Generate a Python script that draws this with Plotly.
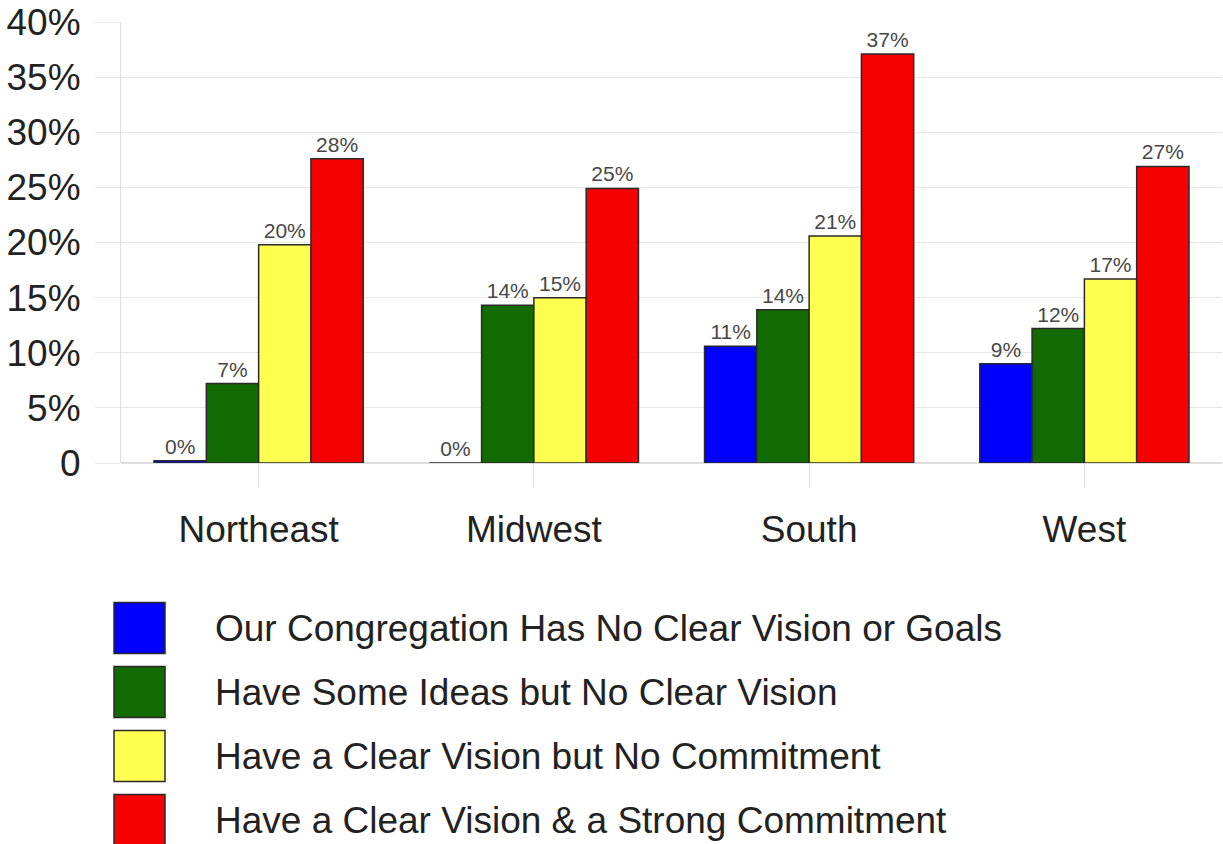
import plotly.graph_objects as go

regions = ["Northeast", "Midwest", "South", "West"]
series_names = [
    "Our Congregation Has No Clear Vision or Goals",
    "Have Some Ideas but No Clear Vision",
    "Have a Clear Vision but No Commitment",
    "Have a Clear Vision & a Strong Commitment",
]
no_clear_vision = [0.2, 0.0, 10.6, 9.0]
some_ideas = [7.2, 14.3, 13.9, 12.2]
vision_no_commit = [19.8, 15.0, 20.6, 16.7]
vision_strong_commit = [27.6, 24.9, 37.1, 26.9]
colors = ["#0000FF", "#126B00", "#FFFF50", "#F60000"]
y_ticks = [0, 5, 10, 15, 20, 25, 30, 35, 40]
y_tick_labels = ["0", "5%", "10%", "15%", "20%", "25%", "30%", "35%", "40%"]

all_series = [no_clear_vision, some_ideas, vision_no_commit, vision_strong_commit]

FONT = "Arial, Liberation Sans, sans-serif"
W, H = 1223, 844
ML, MR, MT, MB = 121, 1, 22, 381

fig = go.Figure()
for name, vals, col in zip(series_names, all_series, colors):
    fig.add_trace(go.Bar(
        x=regions, y=vals, name=name,
        marker=dict(color=col, line=dict(color="#2a2a2a", width=1.5)),
        text=[f"{round(v):d}%" for v in vals],
        textposition="outside",
        textfont=dict(family=FONT, size=21, color="#474747"),
        cliponaxis=False,
        showlegend=False,
        hoverinfo="skip",
    ))

# manual legend (large swatches), positions given in page pixels
ph = H - MT - MB
def py(p):
    return (H - MB - p) / ph
def px(p):
    return (p - ML) / (W - ML - MR)

row_centers = [628, 692, 756, 820]
for name, col, cy in zip(series_names, colors, row_centers):
    fig.add_shape(type="rect", xref="paper", yref="paper",
                  x0=px(114), x1=px(165), y0=py(cy - 25.5), y1=py(cy + 25.5),
                  fillcolor=col, line=dict(color="#2a2a2a", width=1.5))
    fig.add_annotation(xref="paper", yref="paper", x=px(213), y=py(cy),
                       text=name, showarrow=False, xanchor="left", yanchor="middle",
                       font=dict(family=FONT, size=37, color="#222222"))

fig.update_layout(
    width=W, height=H,
    margin=dict(l=ML, r=MR, t=MT, b=MB, pad=0, autoexpand=False),
    paper_bgcolor="white", plot_bgcolor="white",
    barmode="group", bargap=0.24, bargroupgap=0,
    font=dict(family=FONT, size=37, color="#222222"),
)
fig.update_yaxes(
    automargin=False,
    range=[0, 40], tickvals=y_ticks, ticktext=y_tick_labels,
    ticklabeloverflow="allow",
    showgrid=True, gridcolor="#e6e6e6", gridwidth=1,
    ticks="outside", ticklen=25, tickcolor="#e6e6e6",
    ticklabelstandoff=7,
    showline=True, linecolor="#dddddd", linewidth=1,
    zeroline=True, zerolinecolor="#dddddd",
    tickfont=dict(family=FONT, size=37, color="#222222"),
)
fig.update_xaxes(
    automargin=False,
    showgrid=False, ticks="outside", ticklen=24, tickcolor="#dddddd",
    ticklabelstandoff=10, showline=False,
    tickfont=dict(family=FONT, size=37, color="#222222"),
)

fig.write_html(
    "out.html",
    config={"displayModeBar": False},
    post_script="document.body.style.margin='0';document.body.style.overflow='hidden';",
)
